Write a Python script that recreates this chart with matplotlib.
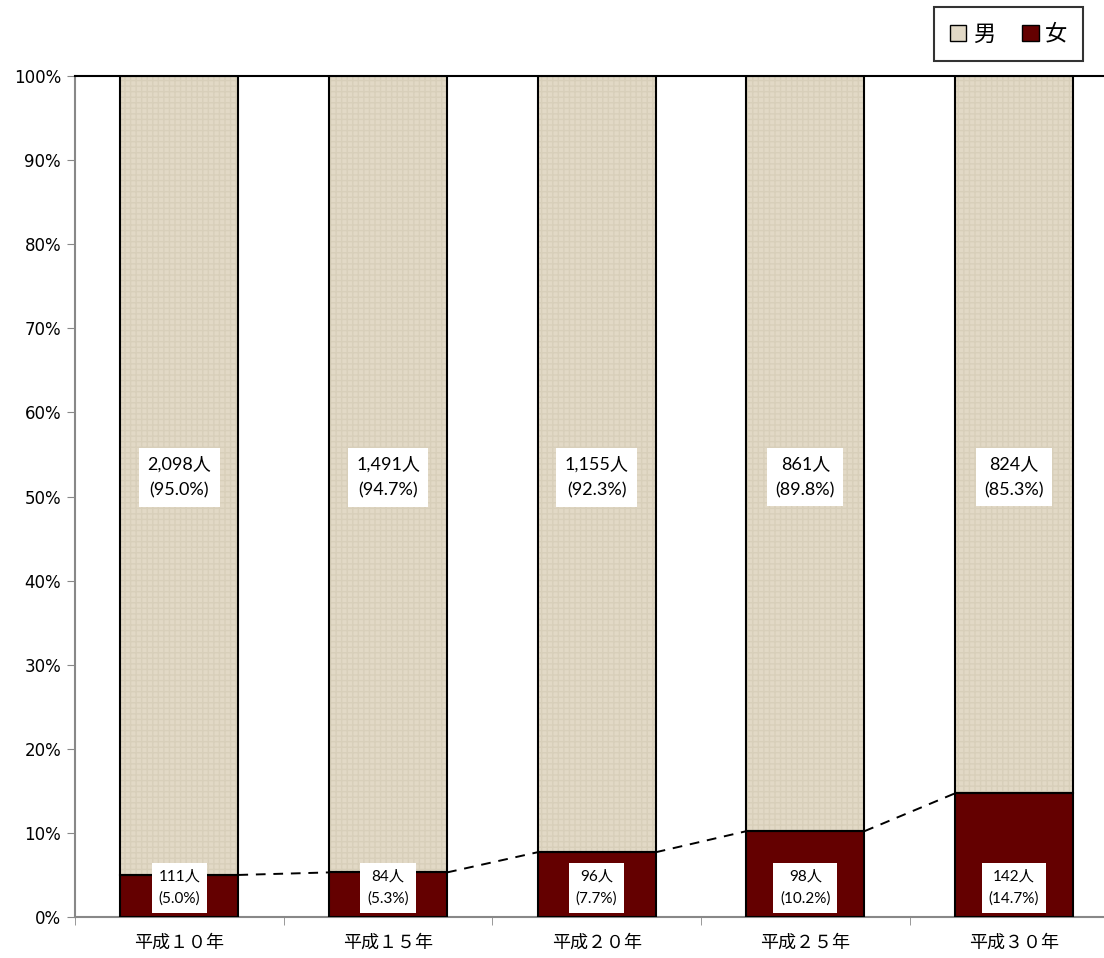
import numpy as np
import matplotlib.pyplot as plt
from matplotlib.patches import Patch

plt.rcParams['font.family'] = ['DejaVu Sans', 'Noto Sans CJK JP']

# data
years = ["平成１０年", "平成１５年", "平成２０年", "平成２５年", "平成３０年"]
male = [2098, 1491, 1155, 861, 824]
female = [111, 84, 96, 98, 142]
male_pct = [95.0, 94.7, 92.3, 89.8, 85.3]
female_pct = [5.0, 5.3, 7.7, 10.2, 14.7]

x = np.arange(len(years))
w = 0.566
beige = "#e2d9c6"
dark = "#640000"
lbl_font = ['Lato', 'Noto Sans CJK JP']

fig = plt.figure(figsize=(11.04, 9.58), dpi=100)
ax = fig.add_axes([75/1104, 41/958, 1043.3/1104, 841/958])

# female bars
ax.bar(x, female_pct, w, color=dark, edgecolor="black", linewidth=1.5, zorder=3)
# male bars with a faint fabric-like texture
ax.bar(x, male_pct, w, bottom=female_pct, color=beige, edgecolor="#d8cfba",
       hatch="+++", linewidth=0, zorder=2)
ax.bar(x, male_pct, w, bottom=female_pct, facecolor="none", edgecolor="black",
       linewidth=1.5, zorder=3)

# series lines between bars
for i in range(len(x) - 1):
    ax.plot([x[i] + w/2, x[i+1] - w/2], [female_pct[i], female_pct[i+1]],
            color="black", linestyle=(0, (5, 4)), linewidth=1.4, zorder=4)

# labels
for i in range(len(x)):
    ax.text(x[i], 52.3, f"{male[i]:,}人\n({male_pct[i]:.1f}%)", ha="center", va="center",
            fontsize=13, linespacing=1.75, zorder=5, family=lbl_font,
            bbox=dict(facecolor="white", edgecolor="none", pad=6))
    ax.text(x[i], 3.5, f"{female[i]:,}人\n({female_pct[i]:.1f}%)", ha="center", va="center",
            fontsize=11, linespacing=1.7, zorder=5, family=lbl_font,
            bbox=dict(facecolor="white", edgecolor="none", pad=5))

ax.set_xlim(-0.5, len(x) - 0.5)
ax.set_ylim(0, 100)
ax.set_yticks(np.arange(0, 101, 10))
ax.set_yticklabels([f"{v}%" for v in range(0, 101, 10)], fontsize=12)
ax.set_xticks(x)
ax.set_xticklabels(years, fontsize=13, family=['Noto Sans CJK JP'])
ax.set_xticks(np.arange(-0.5, len(x), 1), minor=True)
ax.tick_params(axis="x", which="major", length=0, pad=12)
ax.tick_params(axis="x", which="minor", length=6, color="#888888", direction="out")
ax.tick_params(axis="y", length=6, color="#888888", pad=4)

for s in ["left", "bottom"]:
    ax.spines[s].set_color("#888888")
    ax.spines[s].set_linewidth(1.5)
ax.spines["right"].set_visible(False)
ax.spines["top"].set_color("black")
ax.spines["top"].set_linewidth(1.5)

handles = [Patch(facecolor=beige, edgecolor="black", linewidth=1),
           Patch(facecolor=dark, edgecolor="black", linewidth=1)]
leg = fig.legend(handles, ["男", "女"], loc="upper right", bbox_to_anchor=(1083/1104, 1 - 7/958),
                 ncol=2, prop={'family': 'Noto Sans CJK JP', 'size': 16}, frameon=True,
                 fancybox=False, handlelength=0.75, handleheight=0.75, handletextpad=0.3,
                 columnspacing=1.2, borderpad=0.7, borderaxespad=0)
leg.get_frame().set_edgecolor("black")
leg.get_frame().set_linewidth(1.5)

fig.savefig("out.png", dpi=100)
